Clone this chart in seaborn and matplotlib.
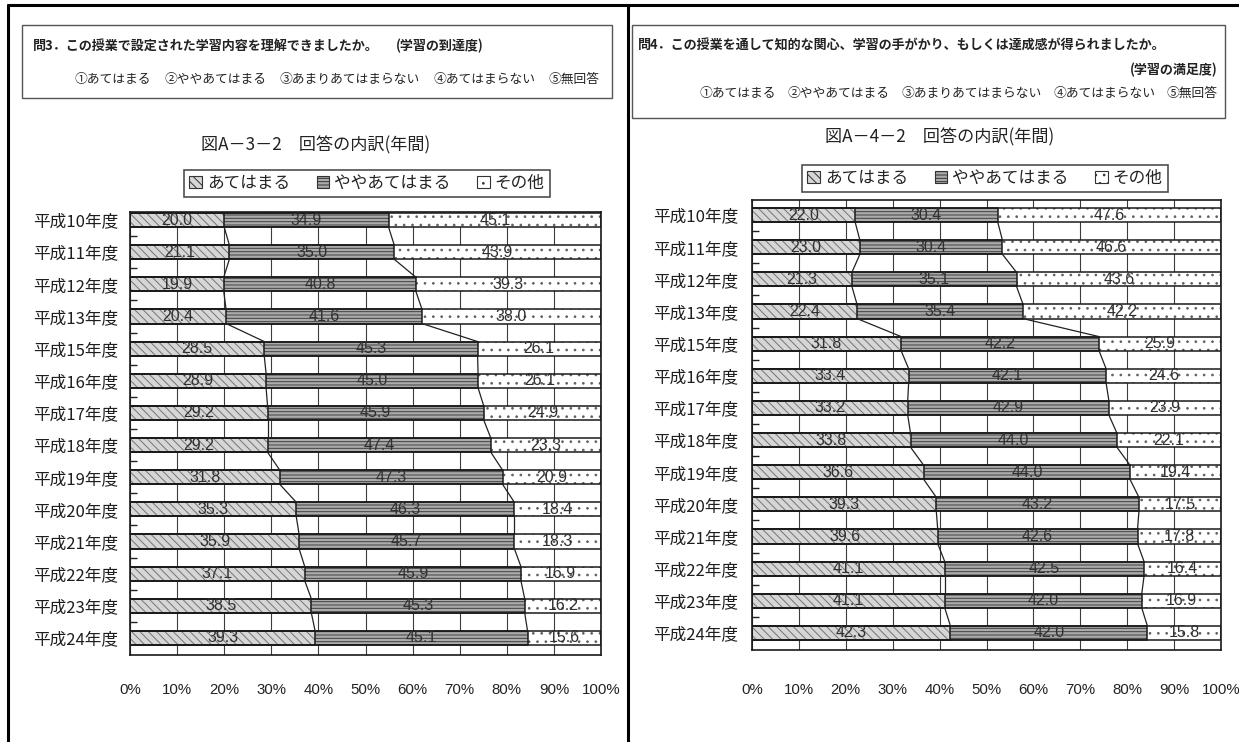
import numpy as np
import pandas as pd
import matplotlib
matplotlib.use("Agg")
import matplotlib.pyplot as plt
import seaborn as sns
from matplotlib.patches import Rectangle, Patch
from matplotlib.lines import Line2D
from matplotlib import font_manager

# ---------------- data ----------------
years = ['平成10年度', '平成11年度', '平成12年度', '平成13年度', '平成15年度',
         '平成16年度', '平成17年度', '平成18年度', '平成19年度', '平成20年度',
         '平成21年度', '平成22年度', '平成23年度', '平成24年度']

series_names = ['あてはまる', 'ややあてはまる', 'その他']

# 図A-3-2 (問3 学習の到達度)
a3_apply = [20.0, 21.1, 19.9, 20.4, 28.5, 28.9, 29.2, 29.2, 31.8, 35.3, 35.9, 37.1, 38.5, 39.3]
a3_some = [34.9, 35.0, 40.8, 41.6, 45.3, 45.0, 45.9, 47.4, 47.3, 46.3, 45.7, 45.9, 45.3, 45.1]
a3_other = [45.1, 43.9, 39.3, 38.0, 26.1, 26.1, 24.9, 23.3, 20.9, 18.4, 18.3, 16.9, 16.2, 15.6]

# 図A-4-2 (問4 学習の満足度)
a4_apply = [22.0, 23.0, 21.3, 22.4, 31.8, 33.4, 33.2, 33.8, 36.6, 39.3, 39.6, 41.1, 41.1, 42.3]
a4_some = [30.4, 30.4, 35.1, 35.4, 42.2, 42.1, 42.9, 44.0, 44.0, 43.2, 42.6, 42.5, 42.0, 42.0]
a4_other = [47.6, 46.6, 43.6, 42.2, 25.9, 24.6, 23.9, 22.1, 19.4, 17.5, 17.8, 16.4, 16.9, 15.8]

x_ticks = [0, 10, 20, 30, 40, 50, 60, 70, 80, 90, 100]
x_tick_labels = ['0%', '10%', '20%', '30%', '40%', '50%', '60%', '70%', '80%', '90%', '100%']

q3_main = '問3．この授業で設定された学習内容を理解できましたか。'
q3_sub = '(学習の到達度)'
q4_main = '問4．この授業を通して知的な関心、学習の手がかり、もしくは達成感が得られましたか。'
q4_sub = '(学習の満足度)'
choices = ['①あてはまる', '②ややあてはまる', '③あまりあてはまらない', '④あてはまらない', '⑤無回答']
chart_titles = ['図A－3－2　回答の内訳(年間)', '図A－4－2　回答の内訳(年間)']

# ---------------- style ----------------
sns.set_theme(style="white")
JP = ['Noto Sans CJK JP', 'DejaVu Sans']
plt.rcParams['font.family'] = JP
plt.rcParams['hatch.linewidth'] = 0.7
names = {f.name for f in font_manager.fontManager.ttflist}
NUM_FONT = 'Liberation Sans Narrow' if 'Liberation Sans Narrow' in names else 'Liberation Sans'
TICK_FONT = 'Liberation Sans' if 'Liberation Sans' in names else 'DejaVu Sans'

STYLES = [
    dict(face='#d6d6d6', hatch='\\\\\\\\', hcolor='#747474'),
    dict(face='#ababab', hatch='-----', hcolor='#404040'),
    dict(face='#ffffff', hatch='..', hcolor='#606060'),
]
BAR_W = 0.44

W, H = 1239, 742
fig = plt.figure(figsize=(W / 100, H / 100), dpi=100)
fig.patch.set_facecolor('white')


def fx(x):
    return x / W


def fy(y):
    return 1 - y / H


def draw_panel(ax, vals, ylim, xpad, ypad):
    n = len(years)
    v = [np.array(s, dtype=float) for s in vals]
    cum1 = v[0]
    cum2 = v[0] + v[1]
    cum3 = v[0] + v[1] + v[2]
    df = pd.DataFrame({'year': years, 'c1': cum1, 'c2': cum2, 'c3': cum3})
    cols = ['c1', 'c2', 'c3']
    # filled / hatched layers (outermost first)
    for k in [2, 1, 0]:
        n0 = len(ax.patches)
        sns.barplot(data=df, x=cols[k], y='year', orient='h', order=years, ax=ax,
                    width=BAR_W, color=STYLES[k]['face'], saturation=1, errorbar=None)
        for p in ax.patches[n0:]:
            p.set_facecolor(STYLES[k]['face'])
            p.set_edgecolor(STYLES[k]['hcolor'])
            p.set_hatch(STYLES[k]['hatch'])
            p.set_linewidth(0)
            p.set_zorder(2)
    # outlines
    for k in [2, 1, 0]:
        n0 = len(ax.patches)
        sns.barplot(data=df, x=cols[k], y='year', orient='h', order=years, ax=ax,
                    width=BAR_W, color='black', saturation=1, errorbar=None)
        for p in ax.patches[n0:]:
            p.set_facecolor('none')
            p.set_edgecolor('#1a1a1a')
            p.set_hatch(None)
            p.set_linewidth(1.1)
            p.set_zorder(3)
    # value labels
    starts = [np.zeros(n), cum1, cum2]
    for k in range(3):
        for i in range(n):
            ax.text(starts[k][i] + v[k][i] / 2, i, f'{v[k][i]:.1f}', ha='center', va='center',
                    fontsize=11.5, color='#303030', family=[NUM_FONT, 'DejaVu Sans'], zorder=5)
    # series lines
    for b in (cum1, cum2):
        for i in range(n - 1):
            ax.plot([b[i], b[i + 1]], [i + BAR_W / 2, i + 1 - BAR_W / 2],
                    color='#222222', lw=0.9, zorder=4)
    ax.set_xlim(0, 100)
    ax.set_ylim(*ylim)
    ax.set_xticks(x_ticks)
    ax.set_xticklabels(x_tick_labels, family=[TICK_FONT, 'DejaVu Sans'])
    ax.set_xlabel('')
    ax.set_ylabel('')
    ax.grid(axis='x', color='#3c3c3c', lw=0.8)
    ax.grid(axis='y', visible=False)
    ax.set_axisbelow(True)
    ax.tick_params(axis='x', length=0, pad=xpad, labelsize=10.8, labelcolor='#222')
    ax.tick_params(axis='y', which='major', length=0, pad=ypad, labelsize=12, labelcolor='#1e1e1e')
    ax.set_yticks(np.arange(n - 1) + 0.5, minor=True)
    ax.tick_params(axis='y', which='minor', direction='in', length=5, width=1, color='#222', left=True)
    for s in ax.spines.values():
        s.set_color('#1a1a1a')
        s.set_linewidth(1.2)


# axes
ax1 = fig.add_axes([fx(130), fy(655), 471 / W, 443 / H])
ax2 = fig.add_axes([fx(752), fy(650), 469 / W, 450 / H])
draw_panel(ax1, [a3_apply, a3_some, a3_other], (13.53, -0.25), 20, 8.5)
draw_panel(ax2, [a4_apply, a4_some, a4_other], (13.53, -0.47), 24, 10)

# legends
handles = [Patch(facecolor=s['face'], edgecolor='#333333', hatch=s['hatch'], linewidth=0.8) for s in STYLES]
for cx, cy in [(367, 183.5), (985, 178)]:
    lg = fig.legend(handles, series_names, loc='center', bbox_to_anchor=(fx(cx), fy(cy)),
                    ncol=3, fontsize=12, frameon=True, fancybox=False, edgecolor='#222222',
                    handlelength=0.75, handleheight=0.75, handletextpad=0.3,
                    columnspacing=1.6, borderpad=0.3, borderaxespad=0)
    lg.get_frame().set_linewidth(1.2)
    lg.get_frame().set_facecolor('white')
    for t in lg.get_texts():
        t.set_color('#222')

# chart titles
fig.text(fx(316), fy(145), chart_titles[0], ha='center', va='center', fontsize=12.3, color='#222')
fig.text(fx(940), fy(137), chart_titles[1], ha='center', va='center', fontsize=12.3, color='#222')

# question boxes
fig.add_artist(Rectangle((fx(22), fy(98)), 590 / W, 73 / H, transform=fig.transFigure,
                         fill=False, ec='#555555', lw=1.0))
fig.add_artist(Rectangle((fx(632), fy(118)), 593 / W, 93 / H, transform=fig.transFigure,
                         fill=False, ec='#555555', lw=1.0))

fig.text(fx(33), fy(46), q3_main, ha='left', va='center', fontsize=9.4, fontweight='bold', color='#222')
fig.text(fx(396), fy(46), q3_sub, ha='left', va='center', fontsize=9.4, fontweight='bold', color='#222')
for x, s in zip([75, 165, 280, 434, 549], choices):
    fig.text(fx(x), fy(79), s, ha='left', va='center', fontsize=9.2, color='#222')

fig.text(fx(638), fy(46), q4_main, ha='left', va='center', fontsize=9.4, fontweight='bold', color='#222')
fig.text(fx(1218), fy(70), q4_sub, ha='right', va='center', fontsize=9.4, fontweight='bold', color='#222')
for x, s in zip([700, 788, 902, 1054, 1167], choices):
    fig.text(fx(x), fy(93), s, ha='left', va='center', fontsize=9.2, color='#222')

# outer frame lines
for (xa, ya, xb, yb) in [(8, 5, 1239, 5), (8, 5, 8, 742), (628, 5, 628, 742)]:
    fig.add_artist(Line2D([fx(xa), fx(xb)], [fy(ya), fy(yb)], transform=fig.transFigure,
                          color='black', lw=2.2))

fig.savefig('out.png', dpi=100, facecolor='white')
